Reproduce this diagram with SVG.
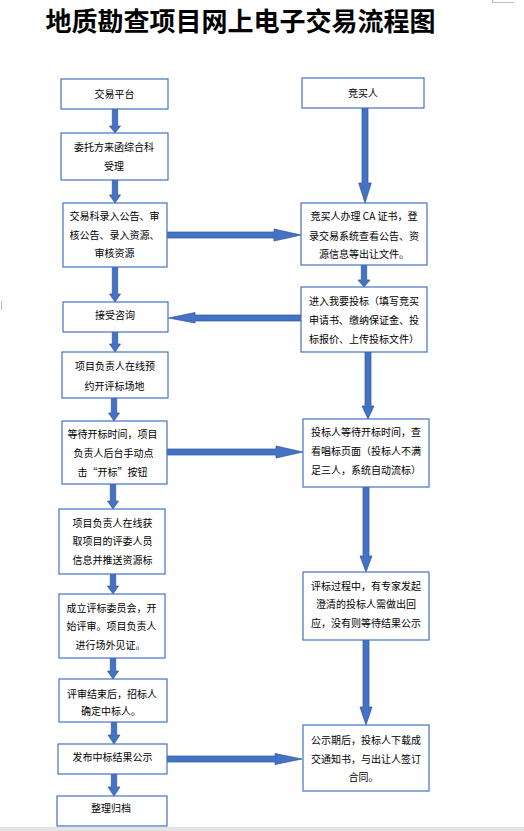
<svg xmlns="http://www.w3.org/2000/svg" width="524" height="831" viewBox="0 0 524 831">
<style>
.box{fill:#fff;stroke:#4472C4;stroke-width:1.2}
.t{font-family:"Noto Sans CJK SC","Noto Sans",sans-serif;font-size:10px;fill:#000;text-anchor:middle}
.title{font-family:"Noto Sans CJK SC","Noto Sans",sans-serif;font-size:26px;font-weight:bold;fill:#000;text-anchor:middle}
.arr{fill:#4472C4;stroke:#2F5597;stroke-width:0.7}
.mark{fill:none;stroke:#bbbbbb;stroke-width:1}
</style>
<rect width="524" height="831" fill="#fff"/>
<text class="title" x="240.5" y="31">地质勘查项目网上电子交易流程图</text>
<polyline class="mark" points="492.5,0 492.5,2.5 514,2.5"/>
<line class="mark" x1="1.5" y1="301" x2="1.5" y2="310"/>
<rect x="0" y="827" width="524" height="4" fill="#e4e4e4"/>

<g id="connectors">
<polygon class="arr" points="112.3,109 117.7,109 117.7,126 120.5,126 115,133 109.5,126 112.3,126"/>
<polygon class="arr" points="112.3,180 117.7,180 117.7,195 120.5,195 115,203 109.5,195 112.3,195"/>
<polygon class="arr" points="112.3,267 117.7,267 117.7,294 120.5,294 115,302 109.5,294 112.3,294"/>
<polygon class="arr" points="112.3,332 117.7,332 117.7,344 120.5,344 115,352 109.5,344 112.3,344"/>
<polygon class="arr" points="111.3,398 116.7,398 116.7,413 119.5,413 114,421 108.5,413 111.3,413"/>
<polygon class="arr" points="110.3,484 115.7,484 115.7,501 118.5,501 113,509 107.5,501 110.3,501"/>
<polygon class="arr" points="110.3,574 115.7,574 115.7,586 118.5,586 113,594 107.5,586 110.3,586"/>
<polygon class="arr" points="110.3,658 115.7,658 115.7,671 118.5,671 113,679 107.5,671 110.3,671"/>
<polygon class="arr" points="111.3,722 116.7,722 116.7,735 120,735 114,744 108,735 111.3,735"/>
<polygon class="arr" points="111.3,774 116.7,774 116.7,787 120,787 114,796 108,787 111.3,787"/>

<polygon class="arr" points="362,108 368,108 368,183 371.3,183 365,203 358.7,183 362,183"/>
<polygon class="arr" points="361.3,265 366.7,265 366.7,280 370,280 364,287 358,280 361.3,280"/>
<polygon class="arr" points="365,352 371,352 371,406 374,406 368,419 362,406 365,406"/>
<polygon class="arr" points="363,487 369,487 369,556 372,556 366,572 360,556 363,556"/>
<polygon class="arr" points="363,640 369,640 369,707 372,707 366,725 360,707 363,707"/>

<polygon class="arr" points="167,232 274,232 274,229 301,235 274,241 274,238 167,238"/>
<polygon class="arr" points="301,315 195,315 195,312.5 168.5,318 195,323 195,321 301,321"/>
<polygon class="arr" points="167,449 276,449 276,446 303,452 276,458 276,455 167,455"/>
<polygon class="arr" points="167,756 275,756 275,753.5 302,759 275,764.5 275,762 167,762"/>
</g>

<g id="n1"><rect class="box" x="61" y="79" width="107" height="30"/><text class="t" x="114.5" y="97.5">交易平台</text></g>
<g id="n2"><rect class="box" x="61" y="133" width="107" height="47"/><text class="t" x="114" y="150.8">委托方来函综合科</text><text class="t" x="114" y="169.5">受理</text></g>
<g id="n3"><rect class="box" x="63" y="203" width="104" height="64"/><text class="t" x="114.5" y="220.2">交易科录入公告、审</text><text class="t" x="114.5" y="238.5">核公告、录入资源、</text><text class="t" x="114.5" y="256.8">审核资源</text></g>
<g id="n4"><rect class="box" x="63" y="302" width="105" height="30"/><text class="t" x="115" y="318.5">接受咨询</text></g>
<g id="n5"><rect class="box" x="62" y="352" width="106" height="46"/><text class="t" x="115" y="370.2">项目负责人在线预</text><text class="t" x="114.5" y="389.5">约开评标场地</text></g>
<g id="n6"><rect class="box" x="62" y="421" width="105" height="63"/><text class="t" x="112.5" y="437.8">等待开标时间，项目</text><text class="t" x="113.5" y="456.8">负责人后台手动点</text><text class="t" x="112.5" y="476.2">击“开标”按钮</text></g>
<g id="n7"><rect class="box" x="59" y="509" width="106" height="65"/><text class="t" x="112.5" y="526.8">项目负责人在线获</text><text class="t" x="112.5" y="545.2">取项目的评委人员</text><text class="t" x="112.5" y="563.5">信息并推送资源标</text></g>
<g id="n8"><rect class="box" x="59" y="594" width="106" height="64"/><text class="t" x="111.5" y="611.8">成立评标委员会，开</text><text class="t" x="111.5" y="630.2">始评审。项目负责人</text><text class="t" x="110.5" y="648.5">进行场外见证。</text></g>
<g id="n9"><rect class="box" x="59" y="679" width="108" height="43"/><text class="t" x="112" y="697.5">评审结束后，招标人</text><text class="t" x="111" y="715.2">确定中标人。</text></g>
<g id="n10"><rect class="box" x="58" y="744" width="109" height="30"/><text class="t" x="112.5" y="760.8">发布中标结果公示</text></g>
<g id="n11"><rect class="box" x="57" y="796" width="110" height="30"/><text class="t" x="111" y="811.8">整理归档</text></g>

<g id="r1"><rect class="box" x="302" y="78" width="122" height="30"/><text class="t" x="363" y="96.5">竞买人</text></g>
<g id="r2"><rect class="box" x="301" y="203" width="126" height="62"/><text class="t" x="364" y="220.2">竞买人办理 CA 证书，登</text><text class="t" x="364" y="239.5">录交易系统查看公告、资</text><text class="t" x="364" y="257.5">源信息等出让文件。</text></g>
<g id="r3"><rect class="box" x="301" y="287" width="126" height="65"/><text class="t" x="364" y="305.2">进入我要投标（填写竞买</text><text class="t" x="364" y="324.2">申请书、缴纳保证金、投</text><text class="t" x="364" y="342.5">标报价、上传投标文件）</text></g>
<g id="r4"><rect class="box" x="303" y="419" width="126" height="68"/><text class="t" x="366" y="436.2">投标人等待开标时间，查</text><text class="t" x="366" y="455.2">看唱标页面（投标人不满</text><text class="t" x="366" y="474.2">足三人，系统自动流标）</text></g>
<g id="r5"><rect class="box" x="303" y="572" width="126" height="68"/><text class="t" x="366" y="589.5">评标过程中，有专家发起</text><text class="t" x="366" y="607.8">澄清的投标人需做出回</text><text class="t" x="366" y="626.8">应，没有则等待结果公示</text></g>
<g id="r6"><rect class="box" x="303" y="725" width="126" height="66"/><text class="t" x="366" y="743.5">公示期后，投标人下载成</text><text class="t" x="366" y="762.5">交通知书，与出让人签订</text><text class="t" x="363.5" y="781.2">合同。</text></g>
</svg>
